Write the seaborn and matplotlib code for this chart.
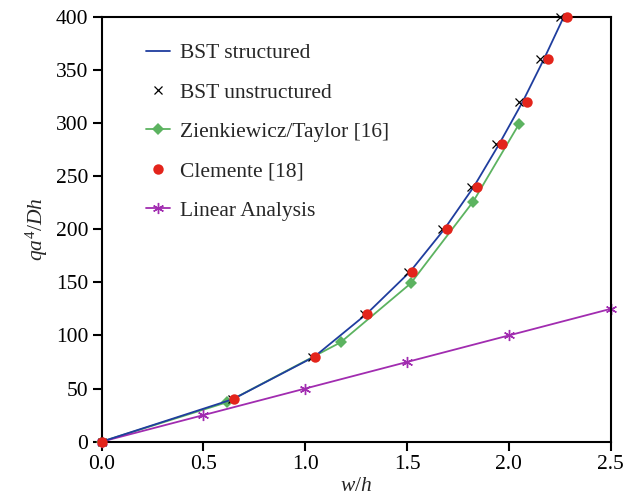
import matplotlib
matplotlib.use("Agg")
import matplotlib.pyplot as plt
import seaborn as sns
import pandas as pd

# Data
load_levels = [0, 40, 80, 120, 160, 200, 240, 280, 320, 360, 400]
bst_structured_x = [0, 0.645, 1.045, 1.300, 1.515, 1.683, 1.828, 1.952, 2.068, 2.172, 2.270]
bst_unstructured_x = [0, 0.640, 1.035, 1.290, 1.506, 1.670, 1.814, 1.935, 2.050, 2.153, 2.251]
clemente_x = [0, 0.651, 1.048, 1.305, 1.523, 1.694, 1.842, 1.968, 2.087, 2.190, 2.287]

zienk_x = [0, 0.614, 1.174, 1.518, 1.825, 2.050]
zienk_y = [0, 37, 93.5, 149, 226, 299]

linear_x = [0, 0.5, 1.0, 1.5, 2.0, 2.5]
linear_y = [0, 25, 50, 75, 100, 125]

x_ticks = [0.0, 0.5, 1.0, 1.5, 2.0, 2.5]
y_ticks = [0, 50, 100, 150, 200, 250, 300, 350, 400]

sns.set_style("ticks")
plt.rcParams["font.family"] = ["Liberation Serif", "DejaVu Serif"]
plt.rcParams["mathtext.fontset"] = "custom"
plt.rcParams["mathtext.rm"] = "Liberation Serif"
plt.rcParams["mathtext.it"] = "Liberation Serif:italic"

fig = plt.figure(figsize=(6.35, 4.98), dpi=100)
ax = fig.add_axes([0.160, 0.1131, 0.8017, 0.8534])

blue = "#1f3d9e"
green = "#5cb360"
red = "#e3241b"
purple = "#a12cb0"

df_bs = pd.DataFrame({"x": bst_structured_x, "y": load_levels})
df_bu = pd.DataFrame({"x": bst_unstructured_x, "y": load_levels})
df_cl = pd.DataFrame({"x": clemente_x, "y": load_levels})
df_zt = pd.DataFrame({"x": zienk_x, "y": zienk_y})
df_la = pd.DataFrame({"x": linear_x, "y": linear_y})

sns.lineplot(data=df_bs, x="x", y="y", ax=ax, color=blue, lw=1.3, sort=False,
             label="BST structured", zorder=3)
sns.lineplot(data=df_bu, x="x", y="y", ax=ax, color="black", lw=0, marker="x",
             markersize=5.5, markeredgewidth=0.9, markeredgecolor="black",
             sort=False, label="BST unstructured", zorder=4, clip_on=False)
sns.lineplot(data=df_zt, x="x", y="y", ax=ax, color=green, lw=1.3, marker="D",
             markersize=6.2, markeredgewidth=0, markerfacecolor=green, sort=False,
             label="Zienkiewicz/Taylor [16]", zorder=2, clip_on=False)
sns.lineplot(data=df_cl, x="x", y="y", ax=ax, color=red, lw=0, marker="o",
             markersize=7.5, markeredgewidth=0, markerfacecolor=red, sort=False,
             label="Clemente [18]", zorder=5, clip_on=False)
sns.lineplot(data=df_la, x="x", y="y", ax=ax, color=purple, lw=1.3, marker=(6, 2, 0),
             markersize=8, markeredgewidth=1.0, markeredgecolor=purple, sort=False,
             label="Linear Analysis", zorder=2, clip_on=False)

ax.set_xlim(0, 2.5)
ax.set_ylim(0, 400)
ax.set_xticks(x_ticks)
ax.set_xticklabels([f"{v:.1f}" for v in x_ticks])
ax.set_yticks(y_ticks)
ax.set_yticklabels([str(v) for v in y_ticks])

for s in ax.spines.values():
    s.set_linewidth(1.5)
    s.set_color("black")
ax.tick_params(direction="out", length=6.5, width=1.5, labelsize=15.5,
               colors="black", pad=3)

ax.set_xlabel(r"$w/h$", fontsize=15.5, labelpad=2)
ax.set_ylabel(r"$qa^{\mathrm{4}}/Dh$", fontsize=15.5, labelpad=4)

leg = ax.legend(loc="upper left", bbox_to_anchor=(0.088, 0.938), frameon=False,
                fontsize=15.5, handlelength=1.1, handletextpad=0.45,
                labelspacing=0.9, borderpad=0, borderaxespad=0)

fig.savefig("out.png", dpi=100)
